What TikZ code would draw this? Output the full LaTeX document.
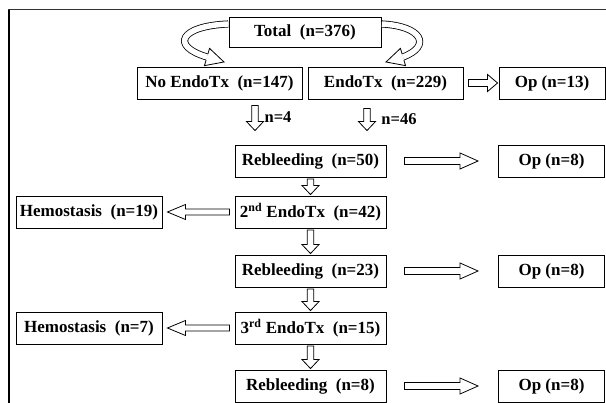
\documentclass[tikz,border=0pt]{standalone}
\usepackage{fontspec}
\setmainfont{Liberation Serif}
\usetikzlibrary{calc}
\tikzset{
  box/.style={draw, line width=0.9pt, inner sep=0pt, minimum height=32pt,
    font=\bfseries\fontsize{17}{18}\selectfont},
  lbl/.style={inner sep=0pt, font=\bfseries\fontsize{16.5}{18}\selectfont},
  hollow/.style={draw, line width=0.8pt, fill=white, line join=miter},
  harr/.style n args={3}{to path={
    let \p1=(\tikztostart), \p2=(\tikztotarget),
        \n1={atan2(\y2-\y1,\x2-\x1)} in
    ($(\p1)+(\n1+90:#1)$) -- ($(\p2)+(\n1+180:#3)+(\n1+90:#1)$)
    -- ($(\p2)+(\n1+180:#3)+(\n1+90:#2)$) -- (\p2)
    -- ($(\p2)+(\n1+180:#3)+(\n1-90:#2)$) -- ($(\p2)+(\n1+180:#3)+(\n1-90:#1)$)
    -- ($(\p1)+(\n1-90:#1)$) -- cycle}},
  hhead/.style n args={2}{to path={
    let \p1=(\tikztostart), \p2=(\tikztotarget),
        \n1={atan2(\y2-\y1,\x2-\x1)} in
    ($(\p1)+(\n1+90:#1)$) -- ($(\p1)+(\n1+90:#2)$) -- (\p2)
    -- ($(\p1)+(\n1-90:#2)$) -- ($(\p1)+(\n1-90:#1)$)}},
  longr/.style={harr={3.5pt}{8pt}{18pt}},
  longl/.style={harr={3pt}{7.5pt}{18pt}},
  shortr/.style={harr={3.5pt}{8.5pt}{10pt}},
  down/.style={harr={3.2pt}{8.5pt}{9pt}},
  band/.style={line width=0.8pt, double=white, double distance=5.5pt},
}
\begin{document}
\begin{tikzpicture}[x=1pt,y=-1pt]
\useasboundingbox (0,0) rectangle (606,403);
\fill[white] (0,0) rectangle (606,403);
% frame
\draw[line width=1.4pt] (9,403) -- (9,9.5);
\draw[line width=0.9pt, black!80] (8.3,9.5) -- (606,9.5);

% nodes
\node[box, minimum width=152pt, minimum height=30pt] (total) at (305,32) {Total~ (n=376)};
\node[box, minimum width=165pt] (noendo) at (219.5,83) {No EndoTx~ (n=147)};
\node[box, minimum width=155pt] (endo) at (385.5,83) {EndoTx~ (n=229)};
\node[box, minimum width=106pt] (op1) at (552,83) {Op (n=13)};

\node[box, minimum width=151pt] (reb1) at (310.5,161) {Rebleeding~ (n=50)};
\node[box, minimum width=106pt] (op2) at (551.5,161) {Op (n=8)};

\node[box, minimum width=146pt] (hemo1) at (89,212) {Hemostasis~ (n=19)};
\node[box, minimum width=151pt] (endo2) at (310.5,212) {2\textsuperscript{nd} EndoTx~ (n=42)};

\node[box, minimum width=151pt] (reb2) at (310.5,271) {Rebleeding~ (n=23)};
\node[box, minimum width=106pt] (op3) at (551.5,271) {Op (n=8)};

\node[box, minimum width=146pt] (hemo2) at (89,328) {Hemostasis~ (n=7)};
\node[box, minimum width=151pt] (endo3) at (310.5,328) {3\textsuperscript{rd} EndoTx~ (n=15)};

\node[box, minimum width=151pt] (reb3) at (310.5,386) {Rebleeding~ (n=8)};
\node[box, minimum width=106pt] (op4) at (551.5,386) {Op (n=8)};

\node[lbl] (l4) at (278,117) {n=4};
\node[lbl] (l46) at (399,119) {n=46};

% curved hollow arrows from Total
\coordinate (ca) at (207,57);
\coordinate (tipa) at (224,62);
\coordinate (cb) at (403,57);
\coordinate (tipb) at (386,62);
\draw[band] ($(total.west)+(-0.4,-8)$) .. controls (180,26) and (170,46) .. (ca);
\filldraw[hollow] (ca) to[hhead={3.15pt}{9pt}] (tipa);
\draw[band] ($(total.east)+(0.4,-8)$) .. controls (422,26) and (432,46) .. (cb);
\filldraw[hollow] (cb) to[hhead={3.15pt}{9pt}] (tipb);

% straight hollow arrows
\draw[hollow] ($(endo.east)+(5,0)$) to[shortr] ($(op1.west)+(-1,0)$);
\draw[hollow] ($(noendo.south)+(35.5,6)$) to[down] ($(reb1.north)+(-55.5,-14)$);
\draw[hollow] ($(endo.south)+(-18.5,9)$) to[down] ($(reb1.north)+(56.5,-14)$);

\draw[hollow] ($(reb1.east)+(18,0)$) to[longr] ($(op2.west)+(-20,0)$);
\draw[hollow] ($(reb1.south)+(0,1.5)$) to[down] ($(endo2.north)+(0,-1)$);
\draw[hollow] ($(endo2.west)+(-5,0)$) to[longl] ($(hemo1.east)+(5,0)$);
\draw[hollow] ($(endo2.south)+(0,1.5)$) to[down] ($(reb2.north)+(0,-1)$);

\draw[hollow] ($(reb2.east)+(18,0)$) to[longr] ($(op3.west)+(-20,0)$);
\draw[hollow] ($(reb2.south)+(0,1.5)$) to[down] ($(endo3.north)+(0,-1)$);
\draw[hollow] ($(endo3.west)+(-5,0)$) to[longl] ($(hemo2.east)+(5,0)$);
\draw[hollow] ($(endo3.south)+(0,1.5)$) to[down] ($(reb3.north)+(0,-1)$);

\draw[hollow] ($(reb3.east)+(18,0)$) to[longr] ($(op4.west)+(-20,0)$);
\end{tikzpicture}
\end{document}
